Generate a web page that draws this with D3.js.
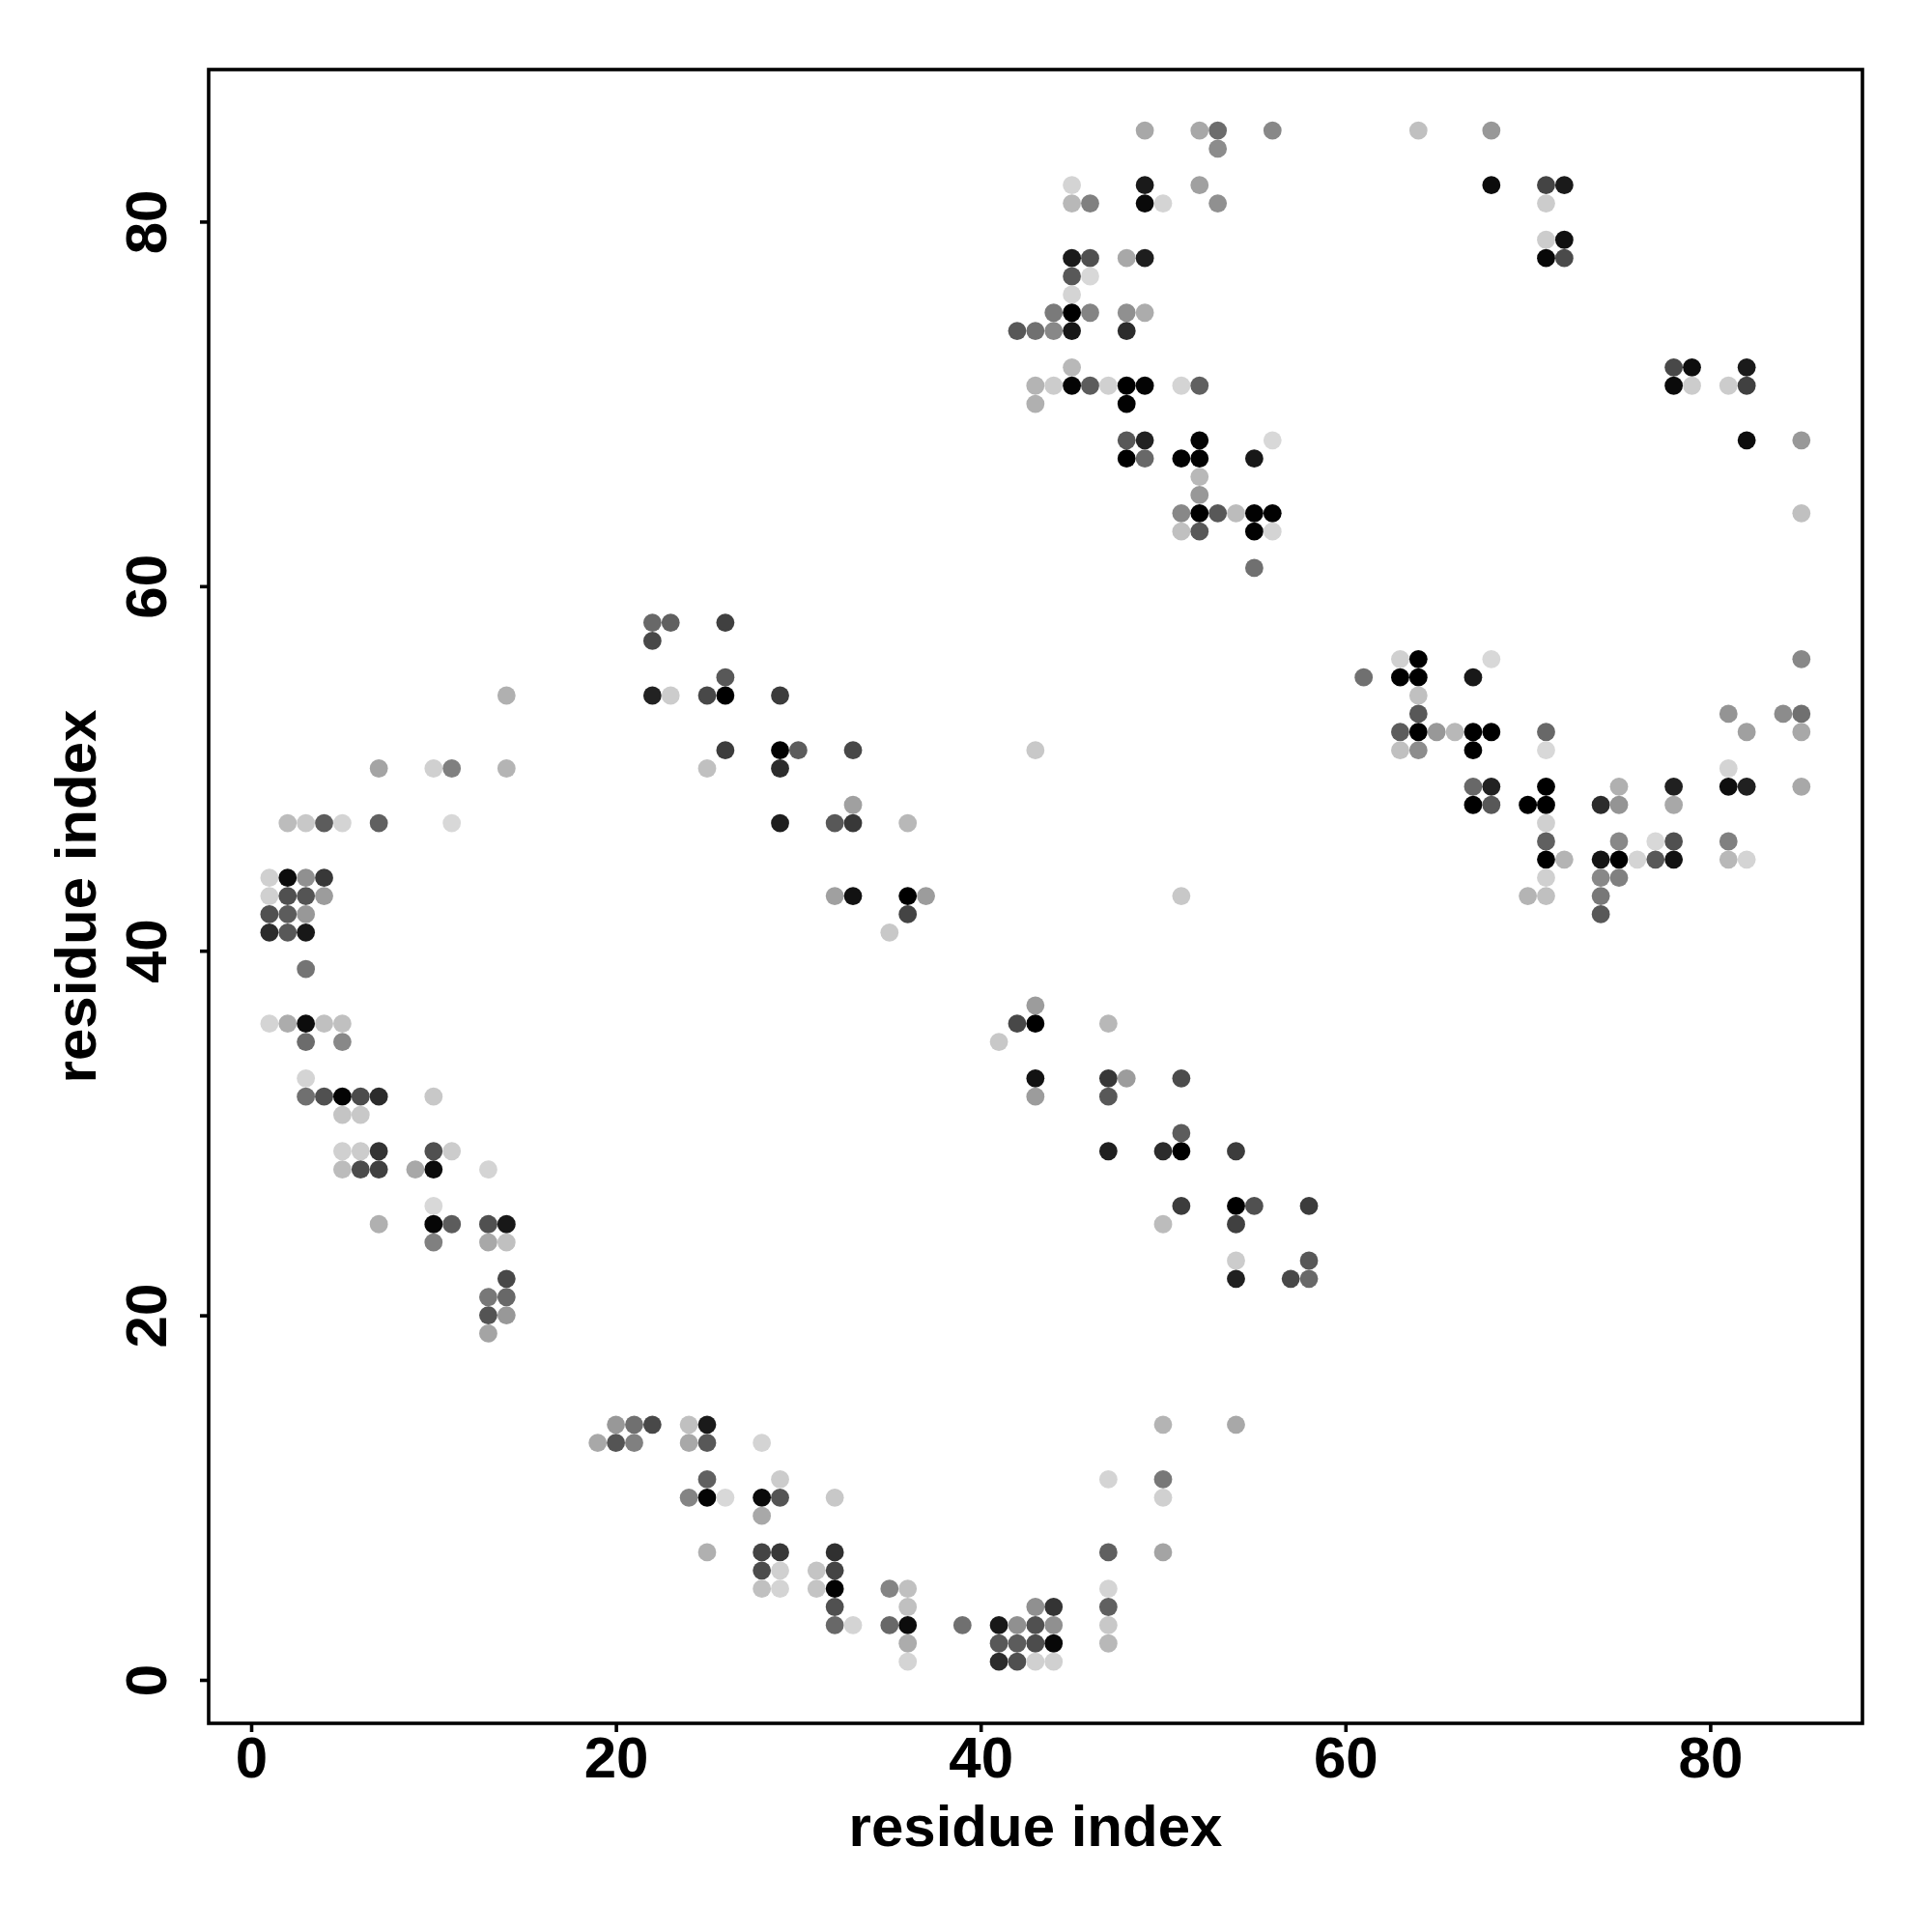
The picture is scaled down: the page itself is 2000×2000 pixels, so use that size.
<!DOCTYPE html>
<html><head><meta charset="utf-8">
<script src="https://d3js.org/d3.v7.min.js"></script>
<style>html,body{margin:0;padding:0;background:#fff}svg{display:block}</style>
</head><body><svg id="c" width="2000" height="2000"></svg>
<script>
// each entry: [x residue, y residue, grey level]
const contactsTopRight = [
 [64,85,0xc0],[68,85,0x98],[68,82,0x0c],[71,82,0x44],[72,82,0x1a],[71,81,0xcc],[71,79,0xcc],[72,79,0x10],[71,78,0x08],[72,78,0x4a],
 [78,72,0x48],[79,72,0x0e],[82,72,0x1a],[78,71,0x0a],[79,71,0xcc],[81,71,0xcc],[82,71,0x40],[82,68,0x0c],[85,68,0x98],[85,64,0xc0]
];
const contactsTopMiddle = [
 [49,85,0xa8],[52,85,0xa8],[53,85,0x6c],[56,85,0x88],[53,84,0x8c],[45,82,0xd4],[49,82,0x1a],[52,82,0xa0],
 [45,81,0xb8],[46,81,0x80],[49,81,0x0a],[50,81,0xd4],[53,81,0x90],
 [45,78,0x1a],[46,78,0x50],[48,78,0xa8],[49,78,0x1e],[45,77,0x58],[46,77,0xd8],[45,76,0xd4],
 [44,75,0x7a],[45,75,0x00],[46,75,0x84],[48,75,0x90],[49,75,0xac],
 [42,74,0x58],[43,74,0x70],[44,74,0x88],[45,74,0x18],[48,74,0x2c],[45,72,0xb8],
 [43,71,0xb4],[44,71,0xcc],[45,71,0x04],[46,71,0x5c],[47,71,0xd0],[48,71,0x00],[49,71,0x04],[51,71,0xd4],[52,71,0x60],
 [43,70,0xb0],[48,70,0x02],
 [48,68,0x58],[49,68,0x22],[52,68,0x04],[56,68,0xd8],[48,67,0x00],[49,67,0x68],[51,67,0x02],[52,67,0x02],[55,67,0x18],
 [52,66,0xb8],[52,65,0x98],
 [51,64,0x88],[52,64,0x00],[53,64,0x58],[54,64,0xbc],[55,64,0x02],[56,64,0x02],
 [51,63,0xc0],[52,63,0x58],[55,63,0x02],[56,63,0xd4],[55,61,0x70]
];
const contactsMiddleLeft = [
 [22,58,0x68],[23,58,0x60],[26,58,0x40],[22,57,0x48],[26,55,0x58],
 [14,54,0xb0],[22,54,0x22],[23,54,0xcc],[25,54,0x48],[26,54,0x00],[29,54,0x3c],
 [26,51,0x3c],[29,51,0x02],[30,51,0x5c],[33,51,0x48],[43,51,0xc8],[25,50,0xc0],[29,50,0x2c],
 [33,48,0xa0],[29,47,0x1e],[32,47,0x58],[33,47,0x38],[36,47,0xb8],
 [32,43,0xa0],[33,43,0x12],[36,43,0x00],[37,43,0x9c],[36,42,0x44],[35,41,0xc8]
];
const contactsMiddleRight = [
 [63,56,0xd0],[64,56,0x00],[68,56,0xd8],[85,56,0x88],[61,55,0x70],[63,55,0x00],[64,55,0x00],[67,55,0x18],[64,54,0xc0],
 [64,53,0x58],[81,53,0x94],[84,53,0x8c],[85,53,0x70],
 [63,52,0x5c],[64,52,0x00],[65,52,0x98],[66,52,0xb8],[67,52,0x00],[68,52,0x00],[71,52,0x68],[82,52,0xa0],[85,52,0xa8],
 [63,51,0xc0],[64,51,0x8c],[67,51,0x00],[71,51,0xd8],[81,50,0xd4],
 [67,49,0x68],[68,49,0x22],[71,49,0x00],[75,49,0xb0],[78,49,0x20],[81,49,0x0e],[82,49,0x20],[85,49,0xa8],
 [67,48,0x00],[68,48,0x58],[70,48,0x00],[71,48,0x00],[74,48,0x2c],[75,48,0x94],[78,48,0xa8],[71,47,0xd0],
 [71,46,0x60],[75,46,0x88],[77,46,0xd8],[78,46,0x50],[81,46,0x80],
 [71,45,0x00],[72,45,0xb4],[74,45,0x14],[75,45,0x00],[76,45,0xd4],[77,45,0x58],[78,45,0x12],[81,45,0xb8],[82,45,0xd4],
 [71,44,0xd0],[74,44,0x88],[75,44,0x80],[70,43,0xb4],[71,43,0xc0],[74,43,0x78],[74,42,0x58]
];
const contactsCenter = [
 [51,43,0xc8],[43,37,0x9c],[42,36,0x48],[43,36,0x00],[47,36,0xb8],[41,35,0xc8],
 [43,33,0x12],[47,33,0x38],[48,33,0x9c],[51,33,0x4c],[43,32,0x9c],[47,32,0x58],[51,30,0x5c],
 [47,29,0x20],[50,29,0x2c],[51,29,0x00],[54,29,0x3c],
 [51,26,0x3c],[54,26,0x00],[55,26,0x50],[58,26,0x3c],[50,25,0xbc],[54,25,0x40],
 [54,23,0xcc],[58,23,0x58],[54,22,0x20],[57,22,0x48],[58,22,0x68]
];
const contactsLeftUpper = [
 [7,50,0xa4],[10,50,0xd0],[11,50,0x80],[14,50,0xb4],
 [2,47,0xbc],[3,47,0xc8],[4,47,0x5c],[5,47,0xd4],[7,47,0x60],[11,47,0xd8],
 [1,44,0xd0],[2,44,0x0c],[3,44,0x90],[4,44,0x38],[1,43,0xd0],[2,43,0x50],[3,43,0x54],[4,43,0x9c],
 [1,42,0x50],[2,42,0x5c],[3,42,0x98],[1,41,0x2c],[2,41,0x58],[3,41,0x18],[3,39,0x74],
 [1,36,0xd4],[2,36,0xac],[3,36,0x0c],[4,36,0xc0],[5,36,0xc0],[3,35,0x6c],[5,35,0x88],[3,33,0xd4],
 [3,32,0x70],[4,32,0x50],[5,32,0x04],[6,32,0x4c],[7,32,0x2c],[10,32,0xc8],[5,31,0xc4],[6,31,0xc8]
];
const contactsLeftLower = [
 [5,29,0xd0],[6,29,0xcc],[7,29,0x34],[10,29,0x50],[11,29,0xcc],
 [5,28,0xbc],[6,28,0x4c],[7,28,0x40],[9,28,0xa8],[10,28,0x0c],[13,28,0xd4],[10,26,0xd8],
 [7,25,0xb0],[10,25,0x06],[11,25,0x5c],[13,25,0x50],[14,25,0x18],[10,24,0x80],[13,24,0xa8],[14,24,0xc0],
 [14,22,0x48],[13,21,0x78],[14,21,0x68],[13,20,0x54],[14,20,0x98],[13,19,0xa4]
];
const contactsBottomLeft = [
 [20,14,0x98],[21,14,0x70],[22,14,0x48],[24,14,0xc0],[25,14,0x1a],
 [19,13,0xa8],[20,13,0x54],[21,13,0x80],[24,13,0xa8],[25,13,0x58],[28,13,0xd4],
 [25,11,0x60],[29,11,0xcc],[24,10,0x84],[25,10,0x04],[26,10,0xd8],[28,10,0x0a],[29,10,0x54],[32,10,0xc8],[28,9,0xa8],
 [25,7,0xb0],[28,7,0x44],[29,7,0x38],[32,7,0x30],[28,6,0x4c],[29,6,0xd0],[31,6,0xc4],[32,6,0x44],
 [28,5,0xc0],[29,5,0xd4],[31,5,0xc4],[32,5,0x02],[35,5,0x84],[36,5,0xc0],[32,4,0x50],[36,4,0xc0],
 [32,3,0x68],[33,3,0xd4],[35,3,0x68],[36,3,0x0c],[39,3,0x70],[36,2,0xac],[36,1,0xd4]
];
const contactsBottomRight = [
 [50,14,0xb4],[54,14,0xa8],[47,11,0xd4],[50,11,0x78],[50,10,0xd0],[47,7,0x60],[50,7,0xa4],[47,5,0xd4],
 [43,4,0x90],[44,4,0x34],[47,4,0x60],[41,3,0x18],[42,3,0x90],[43,3,0x50],[44,3,0x90],[47,3,0xc8],
 [41,2,0x58],[42,2,0x5c],[43,2,0x4c],[44,2,0x08],[47,2,0xb8],[41,1,0x2c],[42,1,0x50],[43,1,0xd0],[44,1,0xd0]
];
const tickValues = [0,20,40,60,80];
const xTitle = "residue index";
const yTitle = "residue index";

const contacts = [].concat(contactsTopRight,contactsTopMiddle,contactsMiddleLeft,contactsMiddleRight,
  contactsCenter,contactsLeftUpper,contactsLeftLower,contactsBottomLeft,contactsBottomRight);

const box = {left:216,right:1928,top:72,bottom:1784};
const font = "'Liberation Sans',Arial,Helvetica,sans-serif";
const svg = d3.select("#c");
svg.append("rect").attr("width",2000).attr("height",2000).attr("fill","#fff");

const x = d3.scaleLinear().domain([0,85]).range([260,260+85*18.88]);
const y = d3.scaleLinear().domain([0,85]).range([1739,1739-85*18.87]);
const grey = d3.scaleLinear().domain([0,255]).range(["#000","#fff"]);

svg.append("g").selectAll("circle").data(contacts).join("circle")
  .attr("cx",d=>x(d[0])).attr("cy",d=>y(d[1])).attr("r",9.4).attr("fill",d=>grey(d[2]));

svg.append("rect").attr("x",box.left).attr("y",box.top)
  .attr("width",box.right-box.left).attr("height",box.bottom-box.top)
  .attr("fill","none").attr("stroke","#000").attr("stroke-width",3.6);

const gx = svg.append("g").attr("transform",`translate(0,${box.bottom})`)
  .call(d3.axisBottom(x).tickValues(tickValues).tickSize(9).tickPadding(0).tickFormat(d3.format("d")));
const gy = svg.append("g").attr("transform",`translate(${box.left},0)`)
  .call(d3.axisLeft(y).tickValues(tickValues).tickSize(9).tickPadding(0).tickFormat(d3.format("d")));
[gx,gy].forEach(g=>{
  g.select(".domain").remove();
  g.selectAll("line").attr("stroke","#000").attr("stroke-width",3.6);
  g.selectAll("text").attr("font-family",font).attr("font-weight","bold").attr("font-size",60).attr("fill","#000");
});
gx.selectAll("text").attr("dy",null).attr("y",1840-box.bottom).attr("text-anchor","middle");
gy.selectAll("text").attr("dy",null).attr("x",0).attr("y",0)
  .attr("transform",`translate(${172-box.left},0) rotate(-90)`)
  .attr("text-anchor","middle");

svg.append("text").attr("x",1072).attr("y",1911).attr("text-anchor","middle")
  .attr("font-family",font).attr("font-weight","bold").attr("font-size",60).text(xTitle);
svg.append("text").attr("transform",`translate(99,928) rotate(-90)`).attr("text-anchor","middle")
  .attr("font-family",font).attr("font-weight","bold").attr("font-size",60).text(yTitle);
</script></body></html>
